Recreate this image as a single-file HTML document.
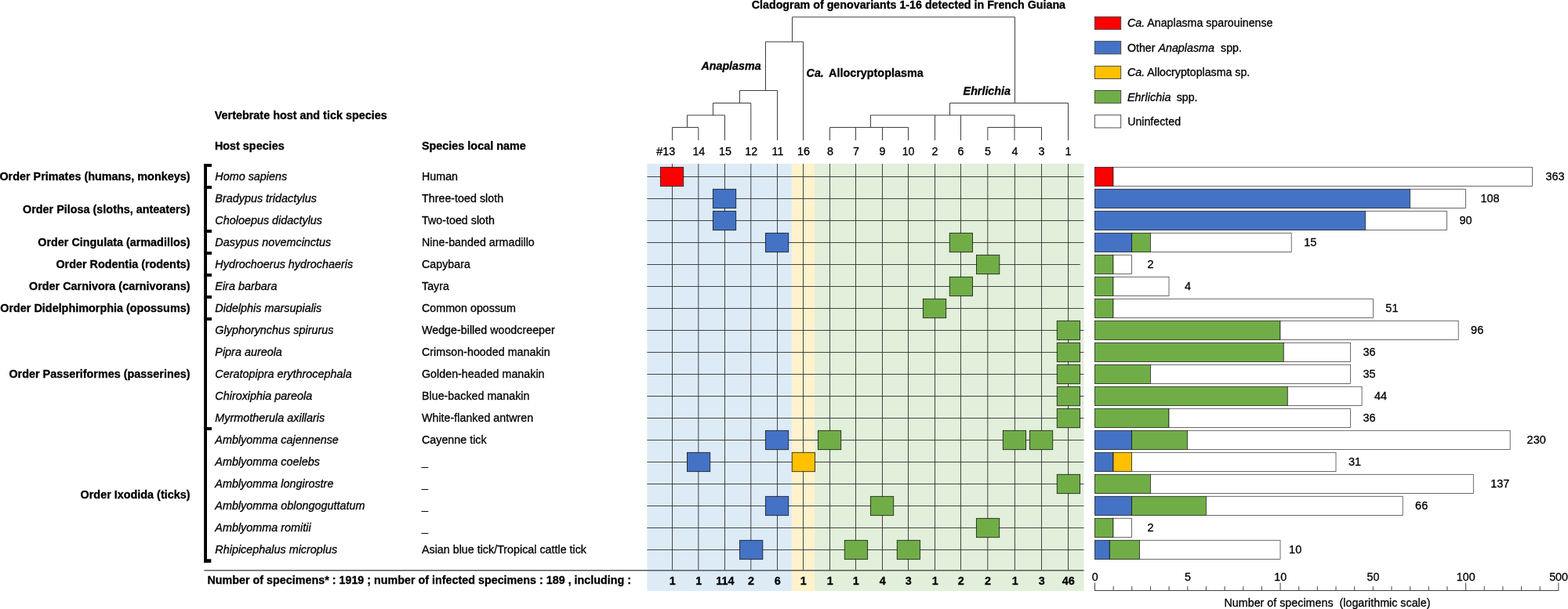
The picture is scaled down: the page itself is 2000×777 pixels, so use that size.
<!DOCTYPE html>
<html lang="en"><head><meta charset="utf-8"><title>Cladogram of genovariants 1-16 detected in French Guiana</title>
<style>
html,body{margin:0;padding:0;background:#fff;}
body{width:2000px;height:777px;overflow:hidden;}
svg{display:block;font-family:"Liberation Sans",sans-serif;font-size:14.3px;fill:#000;}
text{stroke:#000;stroke-width:0.3px;stroke-linejoin:round}.b{font-weight:bold;font-size:14.4px;stroke-width:0.3px}.i{font-style:italic;font-size:14.4px}.bi{font-weight:bold;font-style:italic;font-size:14.3px;stroke-width:0.3px}
.lg{font-size:14.2px}.lg .i{font-size:14.3px}.bl{font-size:14.5px}.e{text-anchor:end}.m{text-anchor:middle}
.ln{stroke:#2e2e2e;stroke-width:0.88;fill:none}
.tr{stroke:#404040;stroke-width:1;fill:none}
.bx{stroke:#000;stroke-opacity:0.8;stroke-width:0.9}
.br{stroke:#3c3c3c;stroke-width:0.9}.sg{stroke:#000;stroke-width:0.8;stroke-opacity:0.85}.w{stroke-opacity:0.72}
</style></head><body>
<svg width="2000" height="777" viewBox="0 0 2000 777">
<rect x="825.4" y="208.9" width="184.5" height="545.1" fill="#DDEBF7"/>
<rect x="1009.9" y="208.9" width="29.100000000000023" height="545.1" fill="#FFF2CC"/>
<rect x="1039" y="208.9" width="343.5" height="545.1" fill="#E2EFDA"/>
<path class="ln" d="M857.50 208.90V727.50M890.85 208.90V727.50M924.50 208.90V727.50M957.80 208.90V727.50M991.50 208.90V727.50M1024.50 208.90V727.50M1058.50 208.90V727.50M1091.50 208.90V727.50M1125.50 208.90V727.50M1158.50 208.90V727.50M1192.50 208.90V727.50M1225.50 208.90V727.50M1259.80 208.90V727.50M1294.40 208.90V727.50M1328.50 208.90V727.50M1362.50 208.90V727.50M825.4 225.50H1382.50M825.4 253.50H1382.50M825.4 281.50H1382.50M825.4 309.50H1382.50M825.4 337.50H1377.60M825.4 365.50H1382.50M825.4 393.50H1382.50M825.4 421.50H1382.50M825.4 449.50H1382.50M825.4 477.50H1382.50M825.4 505.50H1382.50M825.4 533.50H1382.50M825.4 561.50H1382.50M825.4 589.50H1382.50M825.4 617.50H1382.50M825.4 645.50H1382.50M825.4 673.50H1382.50M825.4 701.50H1382.50"/>
<path d="M260.3 727.8H1382.5" stroke="#5a5a5a" stroke-width="1.5" fill="none"/>
<rect class="bx" x="842.40" y="213.35" width="29.3" height="24.3" fill="#FF0000"/>
<rect class="bx" x="909.40" y="241.35" width="29.3" height="24.3" fill="#4472C4"/>
<rect class="bx" x="909.40" y="269.35" width="29.3" height="24.3" fill="#4472C4"/>
<rect class="bx" x="976.40" y="297.35" width="29.3" height="24.3" fill="#4472C4"/>
<rect class="bx" x="1211.25" y="297.35" width="29.3" height="24.3" fill="#70AD47"/>
<rect class="bx" x="1245.50" y="325.35" width="29.3" height="24.3" fill="#70AD47"/>
<rect class="bx" x="1211.25" y="353.35" width="29.3" height="24.3" fill="#70AD47"/>
<rect class="bx" x="1177.40" y="381.35" width="29.3" height="24.3" fill="#70AD47"/>
<rect class="bx" x="1348.25" y="409.35" width="29.3" height="24.3" fill="#70AD47"/>
<rect class="bx" x="1348.25" y="437.35" width="29.3" height="24.3" fill="#70AD47"/>
<rect class="bx" x="1348.25" y="465.35" width="29.3" height="24.3" fill="#70AD47"/>
<rect class="bx" x="1348.25" y="493.35" width="29.3" height="24.3" fill="#70AD47"/>
<rect class="bx" x="1348.25" y="521.35" width="29.3" height="24.3" fill="#70AD47"/>
<rect class="bx" x="976.40" y="549.35" width="29.3" height="24.3" fill="#4472C4"/>
<rect class="bx" x="1043.40" y="549.35" width="29.3" height="24.3" fill="#70AD47"/>
<rect class="bx" x="1279.30" y="549.35" width="29.3" height="24.3" fill="#70AD47"/>
<rect class="bx" x="1313.40" y="549.35" width="29.3" height="24.3" fill="#70AD47"/>
<rect class="bx" x="876.45" y="577.35" width="29.3" height="24.3" fill="#4472C4"/>
<rect class="bx" x="1010.25" y="577.35" width="29.3" height="24.3" fill="#FFC000"/>
<rect class="bx" x="1348.25" y="605.35" width="29.3" height="24.3" fill="#70AD47"/>
<rect class="bx" x="976.40" y="633.35" width="29.3" height="24.3" fill="#4472C4"/>
<rect class="bx" x="1110.40" y="633.35" width="29.3" height="24.3" fill="#70AD47"/>
<rect class="bx" x="1245.40" y="661.35" width="29.3" height="24.3" fill="#70AD47"/>
<rect class="bx" x="943.55" y="689.35" width="29.3" height="24.3" fill="#4472C4"/>
<rect class="bx" x="1077.30" y="689.35" width="29.3" height="24.3" fill="#70AD47"/>
<rect class="bx" x="1144.25" y="689.35" width="29.3" height="24.3" fill="#70AD47"/>
<path class="tr" d="M857.50 162.50H890.85M857.50 162.50V179.00M890.85 162.50V179.00M876.50 147.00V162.50M876.50 147.00H924.50M924.50 147.00V179.00M909.50 131.50V147.00M909.50 131.50H957.80M957.80 131.50V179.00M943.50 115.50V131.50M943.50 115.50H991.50M991.50 115.50V179.00M976.50 53.30V115.50M976.50 53.30H1024.50M1024.50 53.30V179.00M1010.50 21.80V53.30M1010.50 21.80H1294.40M1294.50 21.80V131.50M1294.00 147.00V179.00M1211.50 131.50H1362.50M1362.50 131.50V179.00M1211.50 131.50V147.00M1110.50 147.00H1294.40M1192.50 147.00V179.00M1225.50 147.00V179.00M1110.50 147.00V162.50M1058.50 162.50H1158.50M1058.50 162.50V179.00M1091.50 162.50V179.00M1125.50 162.50V179.00M1158.50 162.50V179.00M1259.80 162.50H1328.50M1259.80 162.50V179.00M1328.50 162.50V179.00"/>
<text class="m" x="849.20" y="191.59" transform="scale(1,1.035)">#13</text>
<text class="m" x="891.35" y="191.59" transform="scale(1,1.035)">14</text>
<text class="m" x="925.00" y="191.59" transform="scale(1,1.035)">15</text>
<text class="m" x="958.30" y="191.59" transform="scale(1,1.035)">12</text>
<text class="m" x="992.00" y="191.59" transform="scale(1,1.035)">11</text>
<text class="m" x="1025.00" y="191.59" transform="scale(1,1.035)">16</text>
<text class="m" x="1059.00" y="191.59" transform="scale(1,1.035)">8</text>
<text class="m" x="1092.00" y="191.59" transform="scale(1,1.035)">7</text>
<text class="m" x="1125.60" y="191.59" transform="scale(1,1.035)">9</text>
<text class="m" x="1158.60" y="191.59" transform="scale(1,1.035)">10</text>
<text class="m" x="1192.60" y="191.59" transform="scale(1,1.035)">2</text>
<text class="m" x="1225.60" y="191.59" transform="scale(1,1.035)">6</text>
<text class="m" x="1259.90" y="191.59" transform="scale(1,1.035)">5</text>
<text class="m" x="1294.50" y="191.59" transform="scale(1,1.035)">4</text>
<text class="m" x="1328.60" y="191.59" transform="scale(1,1.035)">3</text>
<text class="m" x="1362.60" y="191.59" transform="scale(1,1.035)">1</text>
<text class="m b" x="857.80" y="720.58" transform="scale(1,1.035)">1</text>
<text class="m b" x="891.15" y="720.58" transform="scale(1,1.035)">1</text>
<text class="m b" x="924.80" y="720.58" transform="scale(1,1.035)">114</text>
<text class="m b" x="958.10" y="720.58" transform="scale(1,1.035)">2</text>
<text class="m b" x="991.80" y="720.58" transform="scale(1,1.035)">6</text>
<text class="m b" x="1024.80" y="720.58" transform="scale(1,1.035)">1</text>
<text class="m b" x="1058.80" y="720.58" transform="scale(1,1.035)">1</text>
<text class="m b" x="1091.80" y="720.58" transform="scale(1,1.035)">1</text>
<text class="m b" x="1125.80" y="720.58" transform="scale(1,1.035)">4</text>
<text class="m b" x="1158.80" y="720.58" transform="scale(1,1.035)">3</text>
<text class="m b" x="1192.80" y="720.58" transform="scale(1,1.035)">1</text>
<text class="m b" x="1225.80" y="720.58" transform="scale(1,1.035)">2</text>
<text class="m b" x="1260.10" y="720.58" transform="scale(1,1.035)">2</text>
<text class="m b" x="1294.70" y="720.58" transform="scale(1,1.035)">1</text>
<text class="m b" x="1328.80" y="720.58" transform="scale(1,1.035)">3</text>
<text class="m b" x="1362.80" y="720.58" transform="scale(1,1.035)">46</text>
<text class="m b" style="font-size:14.28px" x="1158.9" y="10.63" transform="scale(1,1.035)">Cladogram of genovariants 1-16 detected in French Guiana</text>
<text class="bi" x="894.4" y="86.47" transform="scale(1,1.035)">Anaplasma</text>
<text class="bi" x="1028.6" y="94.40" transform="scale(1,1.035)">Ca.</text>
<text class="b" x="1057" y="94.40" transform="scale(1,1.035)">Allocryptoplasma</text>
<text class="bi" x="1228.6" y="117.29" transform="scale(1,1.035)">Ehrlichia</text>
<text class="b" x="273.8" y="147.15" transform="scale(1,1.035)">Vertebrate host and tick species</text>
<text class="b" x="273.9" y="184.54" transform="scale(1,1.035)">Host species</text>
<text class="b" x="538.0" y="184.73" transform="scale(1,1.035)">Species local name</text>
<text class="i" x="274.3" y="222.03" transform="scale(1,1.035)">Homo sapiens</text>
<text x="538.0" y="222.03" transform="scale(1,1.035)">Human</text>
<text class="i" x="274.3" y="249.08" transform="scale(1,1.035)">Bradypus tridactylus</text>
<text x="538.0" y="249.08" transform="scale(1,1.035)">Three-toed sloth</text>
<text class="i" x="274.3" y="276.14" transform="scale(1,1.035)">Choloepus didactylus</text>
<text x="538.0" y="276.14" transform="scale(1,1.035)">Two-toed sloth</text>
<text class="i" x="274.3" y="303.19" transform="scale(1,1.035)">Dasypus novemcinctus</text>
<text x="538.0" y="303.19" transform="scale(1,1.035)">Nine-banded armadillo</text>
<text class="i" x="274.3" y="330.24" transform="scale(1,1.035)">Hydrochoerus hydrochaeris</text>
<text x="538.0" y="330.24" transform="scale(1,1.035)">Capybara</text>
<text class="i" x="274.3" y="357.29" transform="scale(1,1.035)">Eira barbara</text>
<text x="538.0" y="357.29" transform="scale(1,1.035)">Tayra</text>
<text class="i" x="274.3" y="384.35" transform="scale(1,1.035)">Didelphis marsupialis</text>
<text x="538.0" y="384.35" transform="scale(1,1.035)">Common opossum</text>
<text class="i" x="274.3" y="411.40" transform="scale(1,1.035)">Glyphorynchus spirurus</text>
<text x="538.0" y="411.40" transform="scale(1,1.035)">Wedge-billed woodcreeper</text>
<text class="i" x="274.3" y="438.45" transform="scale(1,1.035)">Pipra aureola</text>
<text x="538.0" y="438.45" transform="scale(1,1.035)">Crimson-hooded manakin</text>
<text class="i" x="274.3" y="465.51" transform="scale(1,1.035)">Ceratopipra erythrocephala</text>
<text x="538.0" y="465.51" transform="scale(1,1.035)">Golden-headed manakin</text>
<text class="i" x="274.3" y="492.56" transform="scale(1,1.035)">Chiroxiphia pareola</text>
<text x="538.0" y="492.56" transform="scale(1,1.035)">Blue-backed manakin</text>
<text class="i" x="274.3" y="519.61" transform="scale(1,1.035)">Myrmotherula axillaris</text>
<text x="538.0" y="519.61" transform="scale(1,1.035)">White-flanked antwren</text>
<text class="i" x="274.3" y="546.67" transform="scale(1,1.035)">Amblyomma cajennense</text>
<text x="538.0" y="546.67" transform="scale(1,1.035)">Cayenne tick</text>
<text class="i" x="274.3" y="573.72" transform="scale(1,1.035)">Amblyomma coelebs</text>
<text x="538.0" y="574.30" transform="scale(1,1.035)">_</text>
<text class="i" x="274.3" y="600.77" transform="scale(1,1.035)">Amblyomma longirostre</text>
<text x="538.0" y="601.35" transform="scale(1,1.035)">_</text>
<text class="i" x="274.3" y="627.83" transform="scale(1,1.035)">Amblyomma oblongoguttatum</text>
<text x="538.0" y="628.41" transform="scale(1,1.035)">_</text>
<text class="i" x="274.3" y="654.88" transform="scale(1,1.035)">Amblyomma romitii</text>
<text x="538.0" y="655.46" transform="scale(1,1.035)">_</text>
<text class="i" x="274.3" y="681.93" transform="scale(1,1.035)">Rhipicephalus microplus</text>
<text x="538.0" y="681.93" transform="scale(1,1.035)">Asian blue tick/Tropical cattle tick</text>
<text class="b e" x="242.5" y="222.46" transform="scale(1,1.035)">Order Primates (humans, monkeys)</text>
<text class="b e" x="242.5" y="263.04" transform="scale(1,1.035)">Order Pilosa (sloths, anteaters)</text>
<text class="b e" x="242.5" y="303.62" transform="scale(1,1.035)">Order Cingulata (armadillos)</text>
<text class="b e" x="242.5" y="330.68" transform="scale(1,1.035)">Order Rodentia (rodents)</text>
<text class="b e" x="242.5" y="357.73" transform="scale(1,1.035)">Order Carnivora (carnivorans)</text>
<text class="b e" x="242.5" y="384.78" transform="scale(1,1.035)">Order Didelphimorphia (opossums)</text>
<text class="b e" x="242.5" y="465.94" transform="scale(1,1.035)">Order Passeriformes (passerines)</text>
<text class="b e" x="242.5" y="614.73" transform="scale(1,1.035)">Order Ixodida (ticks)</text>
<rect x="260.15" y="209.0" width="3.85" height="508.9" fill="#000"/>
<rect x="260.15" y="209.00" width="9.85" height="3.9" fill="#000"/>
<rect x="260.15" y="237.00" width="9.85" height="3.9" fill="#000"/>
<rect x="260.15" y="293.00" width="9.85" height="3.9" fill="#000"/>
<rect x="260.15" y="321.00" width="9.85" height="3.9" fill="#000"/>
<rect x="260.15" y="349.00" width="9.85" height="3.9" fill="#000"/>
<rect x="260.15" y="377.00" width="9.85" height="3.9" fill="#000"/>
<rect x="260.15" y="405.00" width="9.85" height="3.9" fill="#000"/>
<rect x="260.15" y="545.00" width="9.85" height="3.9" fill="#000"/>
<rect x="260.15" y="713.3" width="9.15" height="4.6" fill="#000"/>
<text class="b" style="font-size:14.34px" x="264.5" y="720.19" transform="scale(1,1.035)">Number of specimens* : 1919 ; number of infected specimens : 189 , including :</text>
<rect class="br" x="1396.3" y="21.4" width="33.4" height="16.2" fill="#FF0000"/>
<text class="lg" x="1437.9" y="33.04" transform="scale(1,1.035)"><tspan class="i">Ca.</tspan><tspan dx="3.2">Anaplasma sparouinense</tspan></text>
<rect class="br" x="1396.3" y="52.7" width="33.4" height="16.2" fill="#4472C4"/>
<text class="lg" x="1438.0" y="63.29" transform="scale(1,1.035)">Other <tspan class="i">Anaplasma</tspan><tspan dx="8.1">spp.</tspan></text>
<rect class="br" x="1396.3" y="84.3" width="33.4" height="16.2" fill="#FFC000"/>
<text class="lg" x="1437.9" y="93.82" transform="scale(1,1.035)"><tspan class="i">Ca.</tspan><tspan dx="3.2">Allocryptoplasma sp.</tspan></text>
<rect class="br" x="1396.3" y="115.5" width="33.4" height="16.2" fill="#70AD47"/>
<text class="lg" x="1437.9" y="124.54" transform="scale(1,1.035)"><tspan class="i" style="font-size:14.5px">Ehrlichia</tspan><tspan dx="7.2">spp.</tspan></text>
<rect class="br" x="1396.3" y="146.8" width="33.4" height="16.2" fill="#FFFFFF"/>
<text class="lg" x="1438.2" y="154.20" transform="scale(1,1.035)">Uninfected</text>
<rect class="sg" x="1396.50" y="213.30" width="23.50" height="24.2" fill="#FF0000"/>
<rect class="sg w" x="1420.00" y="213.30" width="534.40" height="24.2" fill="#fff"/>
<text class="m bl" x="1983.50" y="222.42" transform="scale(1,1.035)">363</text>
<rect class="sg" x="1396.50" y="241.30" width="402.00" height="24.2" fill="#4472C4"/>
<rect class="sg w" x="1798.50" y="241.30" width="71.00" height="24.2" fill="#fff"/>
<text class="m bl" x="1900.50" y="249.47" transform="scale(1,1.035)">108</text>
<rect class="sg" x="1396.50" y="269.30" width="345.00" height="24.2" fill="#4472C4"/>
<rect class="sg w" x="1741.50" y="269.30" width="104.10" height="24.2" fill="#fff"/>
<text class="m bl" x="1869.60" y="276.52" transform="scale(1,1.035)">90</text>
<rect class="sg" x="1396.50" y="297.30" width="47.00" height="24.2" fill="#4472C4"/>
<rect class="sg" x="1443.50" y="297.30" width="23.90" height="24.2" fill="#70AD47"/>
<rect class="sg w" x="1467.40" y="297.30" width="179.80" height="24.2" fill="#fff"/>
<text class="m bl" x="1671.20" y="303.57" transform="scale(1,1.035)">15</text>
<rect class="sg" x="1396.50" y="325.30" width="23.50" height="24.2" fill="#70AD47"/>
<rect class="sg w" x="1420.00" y="325.30" width="23.50" height="24.2" fill="#fff"/>
<text class="m bl" x="1467.50" y="330.63" transform="scale(1,1.035)">2</text>
<rect class="sg" x="1396.50" y="353.30" width="23.50" height="24.2" fill="#70AD47"/>
<rect class="sg w" x="1420.00" y="353.30" width="71.00" height="24.2" fill="#fff"/>
<text class="m bl" x="1515.00" y="357.68" transform="scale(1,1.035)">4</text>
<rect class="sg" x="1396.50" y="381.30" width="23.50" height="24.2" fill="#70AD47"/>
<rect class="sg w" x="1420.00" y="381.30" width="331.40" height="24.2" fill="#fff"/>
<text class="m bl" x="1775.40" y="384.73" transform="scale(1,1.035)">51</text>
<rect class="sg" x="1396.50" y="409.30" width="236.50" height="24.2" fill="#70AD47"/>
<rect class="sg w" x="1633.00" y="409.30" width="227.20" height="24.2" fill="#fff"/>
<text class="m bl" x="1884.20" y="411.79" transform="scale(1,1.035)">96</text>
<rect class="sg" x="1396.50" y="437.30" width="240.80" height="24.2" fill="#70AD47"/>
<rect class="sg w" x="1637.30" y="437.30" width="85.30" height="24.2" fill="#fff"/>
<text class="m bl" x="1746.60" y="438.84" transform="scale(1,1.035)">36</text>
<rect class="sg" x="1396.50" y="465.30" width="70.90" height="24.2" fill="#70AD47"/>
<rect class="sg w" x="1467.40" y="465.30" width="255.20" height="24.2" fill="#fff"/>
<text class="m bl" x="1746.60" y="465.89" transform="scale(1,1.035)">35</text>
<rect class="sg" x="1396.50" y="493.30" width="245.80" height="24.2" fill="#70AD47"/>
<rect class="sg w" x="1642.30" y="493.30" width="94.80" height="24.2" fill="#fff"/>
<text class="m bl" x="1761.10" y="492.95" transform="scale(1,1.035)">44</text>
<rect class="sg" x="1396.50" y="521.30" width="94.50" height="24.2" fill="#70AD47"/>
<rect class="sg w" x="1491.00" y="521.30" width="231.60" height="24.2" fill="#fff"/>
<text class="m bl" x="1746.60" y="520.00" transform="scale(1,1.035)">36</text>
<rect class="sg" x="1396.50" y="549.30" width="47.00" height="24.2" fill="#4472C4"/>
<rect class="sg" x="1443.50" y="549.30" width="71.00" height="24.2" fill="#70AD47"/>
<rect class="sg w" x="1514.50" y="549.30" width="411.70" height="24.2" fill="#fff"/>
<text class="m bl" x="1959.70" y="547.05" transform="scale(1,1.035)">230</text>
<rect class="sg" x="1396.50" y="577.30" width="23.50" height="24.2" fill="#4472C4"/>
<rect class="sg" x="1420.00" y="577.30" width="23.50" height="24.2" fill="#FFC000"/>
<rect class="sg w" x="1443.50" y="577.30" width="260.50" height="24.2" fill="#fff"/>
<text class="m bl" x="1728.00" y="574.11" transform="scale(1,1.035)">31</text>
<rect class="sg" x="1396.50" y="605.30" width="70.90" height="24.2" fill="#70AD47"/>
<rect class="sg w" x="1467.40" y="605.30" width="411.90" height="24.2" fill="#fff"/>
<text class="m bl" x="1913.30" y="601.16" transform="scale(1,1.035)">137</text>
<rect class="sg" x="1396.50" y="633.30" width="47.00" height="24.2" fill="#4472C4"/>
<rect class="sg" x="1443.50" y="633.30" width="94.90" height="24.2" fill="#70AD47"/>
<rect class="sg w" x="1538.40" y="633.30" width="250.80" height="24.2" fill="#fff"/>
<text class="m bl" x="1813.20" y="628.21" transform="scale(1,1.035)">66</text>
<rect class="sg" x="1396.50" y="661.30" width="23.50" height="24.2" fill="#70AD47"/>
<rect class="sg w" x="1420.00" y="661.30" width="23.50" height="24.2" fill="#fff"/>
<text class="m bl" x="1467.50" y="655.27" transform="scale(1,1.035)">2</text>
<rect class="sg" x="1396.50" y="689.30" width="18.80" height="24.2" fill="#4472C4"/>
<rect class="sg" x="1415.30" y="689.30" width="38.20" height="24.2" fill="#70AD47"/>
<rect class="sg w" x="1453.50" y="689.30" width="179.50" height="24.2" fill="#fff"/>
<text class="m bl" x="1652.20" y="682.32" transform="scale(1,1.035)">10</text>
<path d="M1396.50 753.50H1987.88M1396.50 754.00V743.50M1420.15 754.00V748.10M1443.81 754.00V748.10M1467.46 754.00V748.10M1491.12 754.00V748.10M1514.78 754.00V748.10M1538.43 754.00V748.10M1562.09 754.00V748.10M1585.74 754.00V748.10M1609.39 754.00V748.10M1633.05 754.00V743.50M1656.70 754.00V748.10M1680.36 754.00V748.10M1704.01 754.00V748.10M1727.67 754.00V748.10M1751.33 754.00V748.10M1774.98 754.00V748.10M1798.63 754.00V748.10M1822.29 754.00V748.10M1845.95 754.00V748.10M1869.60 754.00V743.50M1893.26 754.00V748.10M1916.91 754.00V748.10M1940.57 754.00V748.10M1964.22 754.00V748.10M1987.88 754.00V743.50" stroke="#444" stroke-width="1" fill="none"/>
<text class="m" x="1396.70" y="715.85" transform="scale(1,1.035)">0</text>
<text class="m" x="1514.98" y="715.85" transform="scale(1,1.035)">5</text>
<text class="m" x="1633.25" y="715.85" transform="scale(1,1.035)">10</text>
<text class="m" x="1751.53" y="715.85" transform="scale(1,1.035)">50</text>
<text class="m" x="1869.80" y="715.85" transform="scale(1,1.035)">100</text>
<text class="m" x="1988.08" y="715.85" transform="scale(1,1.035)">500</text>
<text class="m" x="1693" y="748.21" xml:space="preserve" transform="scale(1,1.035)">Number of specimens  (logarithmic scale)</text>
</svg></body></html>
